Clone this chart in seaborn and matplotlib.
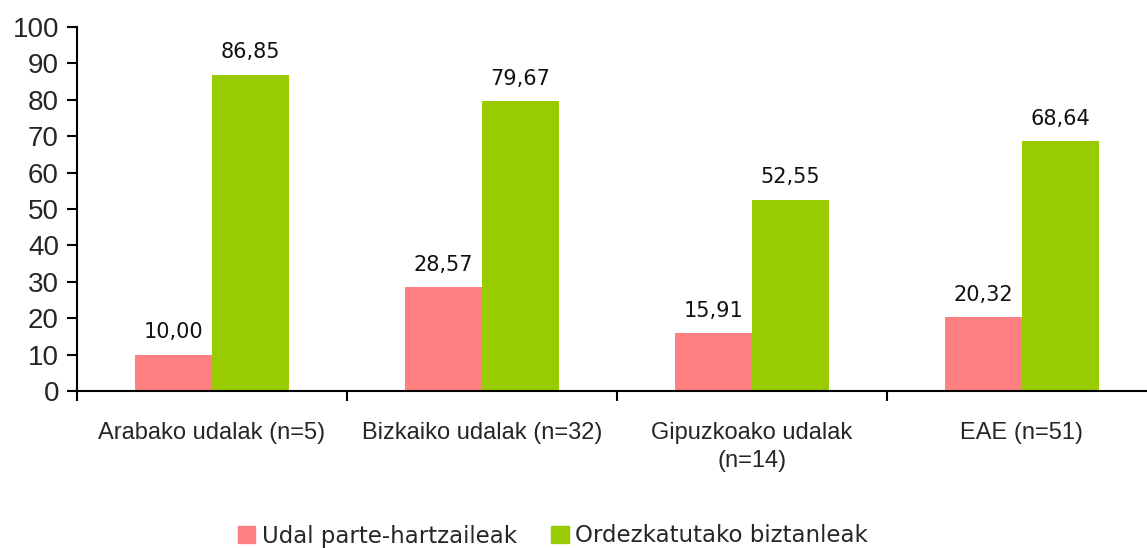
import numpy as np
import pandas as pd
import matplotlib
matplotlib.use("Agg")
import matplotlib.pyplot as plt
import seaborn as sns

# ── data ────────────────────────────────────────────────────
categories = ["Arabako udalak (n=5)", "Bizkaiko udalak (n=32)",
              "Gipuzkoako udalak\n(n=14)", "EAE (n=51)"]
series = ["Udal parte-hartzaileak", "Ordezkatutako biztanleak"]
udal_vals = [10.00, 28.57, 15.91, 20.32]
biztanle_vals = [86.85, 79.67, 52.55, 68.64]
yticks = list(range(0, 101, 10))

colors = ["#FF8080", "#99CC00"]

df = pd.DataFrame({
    "cat": categories * 2,
    "serie": [series[0]] * 4 + [series[1]] * 4,
    "val": udal_vals + biztanle_vals,
})

sns.set_style("white")
plt.rcParams["font.family"] = ["Liberation Sans", "DejaVu Sans"]

fig = plt.figure(figsize=(11.47, 5.48), dpi=100)
ax = fig.add_axes([77 / 1147, 157 / 548, 1080 / 1147, 364 / 548])

sns.barplot(data=df, x="cat", y="val", hue="serie", palette=colors,
            width=0.57, gap=0, saturation=1, linewidth=0, ax=ax, legend=False)

# value labels
for cont in ax.containers:
    ax.bar_label(cont, labels=[f"{v:.2f}".replace(".", ",") for v in cont.datavalues],
                 padding=9, fontsize=15, family="DejaVu Sans", color="#111111")

ax.set_ylim(0, 100)
ax.set_xlim(-0.5, 3.5)
ax.set_yticks(yticks)
ax.set_yticklabels([str(t) for t in yticks], fontsize=20)
ax.set_xlabel("")
ax.set_ylabel("")

# category ticks sit between groups
ax.set_xticks(np.arange(4))
ax.set_xticklabels(categories, fontsize=17, linespacing=1.35)
ax.set_xticks(np.arange(-0.5, 4, 1), minor=True)
ax.tick_params(axis="x", which="major", bottom=True, length=0, pad=22)
ax.tick_params(axis="x", which="minor", bottom=True, length=7, width=1.5,
               color="black", direction="out")
ax.tick_params(axis="y", left=True, length=7, width=1.5, color="black",
               direction="out", pad=6)

sns.despine(ax=ax)
for s in ["left", "bottom"]:
    ax.spines[s].set_color("black")
    ax.spines[s].set_linewidth(1.5)

# legend at bottom
handles = [plt.Rectangle((0, 0), 1, 1, color=c) for c in colors]
fig.legend(handles, series, loc="center", bbox_to_anchor=(553 / 1147, 1 - 536 / 548),
           ncol=2, frameon=False, prop={"family": "DejaVu Sans", "size": 16.5},
           handlelength=0.75, handleheight=0.75, handletextpad=0.3, columnspacing=1.5)

fig.savefig("out.png", dpi=100)
